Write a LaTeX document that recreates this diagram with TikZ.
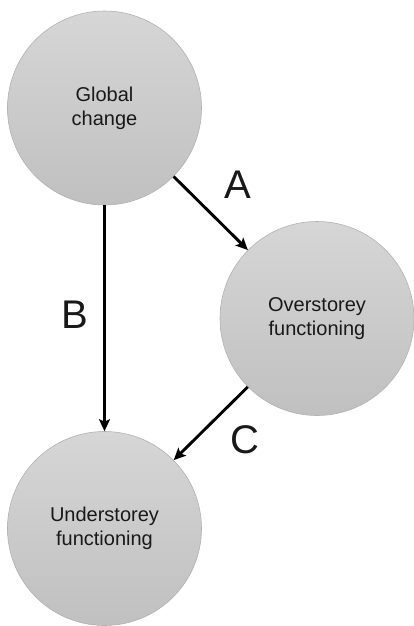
\documentclass[tikz,border=0pt]{standalone}
\usepackage{fontspec}
\setmainfont{Liberation Sans}
\usetikzlibrary{arrows.meta}
\definecolor{circtop}{RGB}{214,214,214}
\definecolor{circbot}{RGB}{192,192,192}
\definecolor{circline}{RGB}{178,178,178}
\definecolor{txt}{RGB}{25,25,25}
\begin{document}
\begin{tikzpicture}[x=1pt,y=-1pt,
  bubble/.style={circle, minimum size=194pt, inner sep=0pt, draw=circline, line width=0.6pt,
    top color=circtop, bottom color=circbot, align=center, text=txt,
    font=\fontsize{20}{24}\selectfont},
  link/.style={line width=2.9pt, -{Stealth[length=12pt,width=11pt,inset=2.5pt]}},
  letter/.style={font=\fontsize{40}{40}\selectfont, text=txt, inner sep=0pt}]
\useasboundingbox (0,0) rectangle (414,626);
\node[bubble] (g) at (104.5,108) {Global\\change};
\node[bubble] (o) at (317,318.5) {Overstorey\\functioning};
\node[bubble] (u) at (104.5,528.5) {Understorey\\functioning};
\draw[link] (g) -- (o);
\draw[link] (g) -- (u);
\draw[link] (o) -- (u);
\node[letter] (la) at (238,185) {A};
\node[letter] (lb) at (75,315) {B};
\node[letter] (lc) at (245,440) {C};
\end{tikzpicture}
\end{document}
